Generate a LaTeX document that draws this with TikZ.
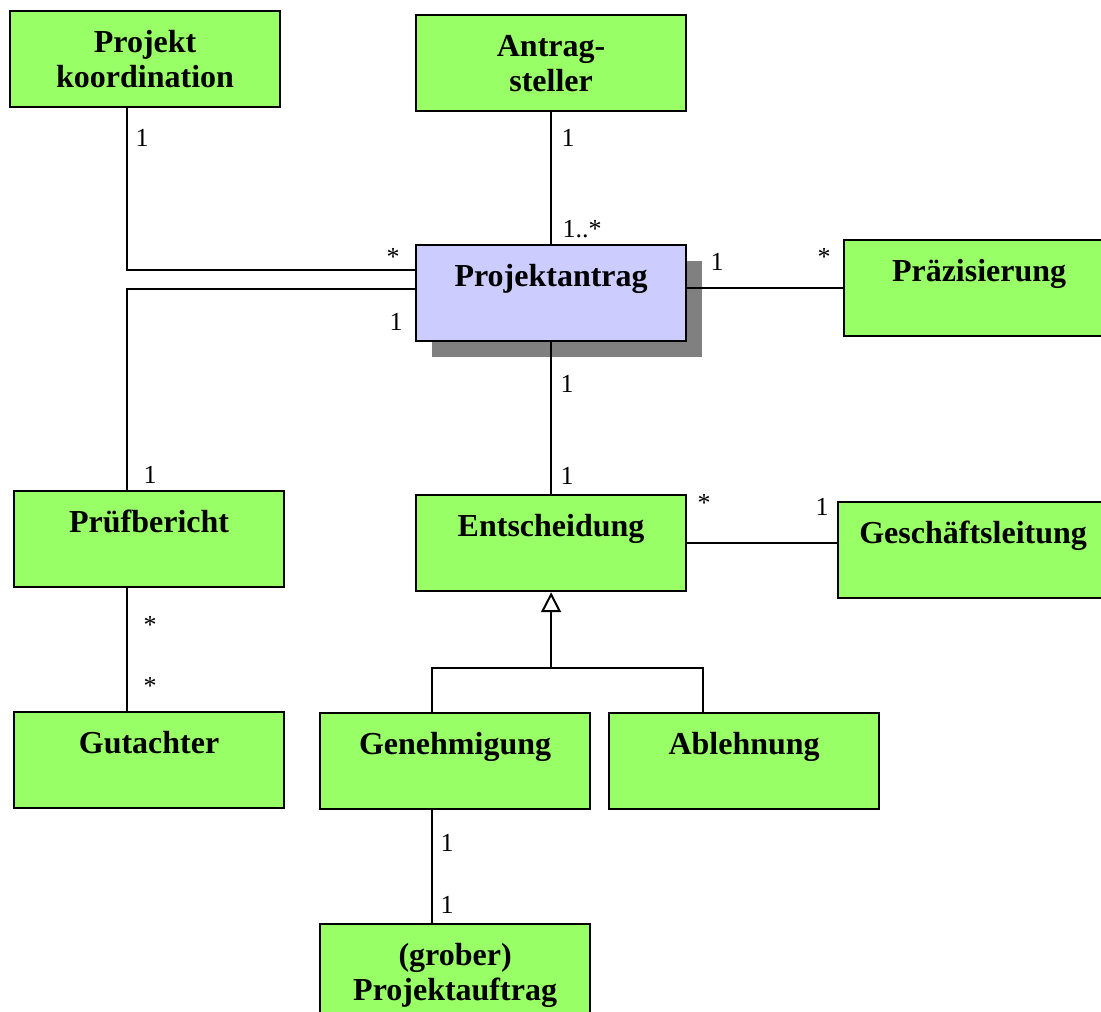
\documentclass[tikz,border=0pt]{standalone}
\usepackage{fontspec}
\setmainfont{Liberation Serif}
\usepackage{xcolor}
\usepackage{tikz}
\usetikzlibrary{arrows.meta,calc,shadows}

\definecolor{clsgreen}{HTML}{99FF66}
\definecolor{clsblue}{HTML}{CCCCFF}
\definecolor{shadowgray}{HTML}{808080}

\begin{document}
\begin{tikzpicture}[
  x=1pt, y=-1pt,
  font=\fontsize{26}{30}\selectfont,
  box/.style={draw=black, line width=2.2pt, fill=clsgreen, anchor=north west,
              minimum width=270pt, text width=250pt, inner xsep=10pt, inner ysep=0pt,
              align=center, text height=41pt, text depth=55pt,
              font=\fontsize{32}{35}\selectfont\bfseries},
  mult/.style={inner sep=0pt},
  assoc/.style={line width=2pt},
  >={Triangle[open, width=20pt, length=20pt]}
]
\useasboundingbox (0,0) rectangle (1101,1012);

% classes
\node[box] (koord) at (9,10) {Projekt\\koordination};
\node[box] (antrag) at (415,14) {Antrag-\\steller};
\node[box, fill=clsblue,
      drop shadow={shadow xshift=16pt, shadow yshift=-16pt, opacity=1, fill=shadowgray}]
  (pa) at (415,244) {Projektantrag};
\node[box] (praez) at (843,239) {Präzisierung};
\node[box] (pruef) at (13,490) {Prüfbericht};
\node[box] (entsch) at (415,494) {Entscheidung};
\node[box] (gesch) at (837,501) {Geschäftsleitung};
\node[box] (gut) at (13,711) {Gutachter};
\node[box] (genehm) at (319,712) {Genehmigung};
\node[box] (abl) at (608,712) {Ablehnung};
\node[box] (auftrag) at (319,923) {(grober)\\Projektauftrag};

% associations
\draw[assoc] ($(koord.south west)+(118,0)$) |- ($(pa.north west)+(0,26)$);
\draw[assoc] ($(pruef.north west)+(114,0)$) |- ($(pa.north west)+(0,45)$);
\draw[assoc] (antrag) -- (pa);
\draw[assoc] (pa.east |- praez.west) -- (praez.west);
\draw[assoc] (pa) -- (entsch);
\draw[assoc] (entsch.east) -- (entsch.east -| gesch.west);
\draw[assoc] ($(pruef.south west)+(114,0)$) -- ($(gut.north west)+(114,0)$);
\draw[assoc] ($(genehm.south west)+(113,0)$) -- ($(auftrag.north west)+(113,0)$);

% generalization
\coordinate (gen) at ($(entsch.south)+(0,76)$);
\draw[assoc, ->] (gen) -- (entsch.south);
\draw[assoc] ($(genehm.north west)+(113,0)$) |- (gen) -| ($(abl.north west)+(95,0)$);

% multiplicities
\node[mult] (m-koord) at (142,138) {1};
\node[mult] (m-antrag) at (568,138) {1};
\node[mult] (m-pa-antrag) at (582,229) {1..*};
\node[mult] (m-pa-koord) at (393,257) {*};
\node[mult] (m-pa-pruef) at (396,322) {1};
\node[mult] (m-pa-praez) at (717,262) {1};
\node[mult] (m-praez) at (824,257) {*};
\node[mult] (m-pa-entsch) at (567,384) {1};
\node[mult] (m-entsch) at (567,476) {1};
\node[mult] (m-pruef) at (150,475) {1};
\node[mult] (m-pruef-gut) at (150,625) {*};
\node[mult] (m-gut) at (150,686) {*};
\node[mult] (m-entsch-gesch) at (704,503) {*};
\node[mult] (m-gesch) at (822,507) {1};
\node[mult] (m-genehm) at (447,843) {1};
\node[mult] (m-auftrag) at (447,905) {1};
\end{tikzpicture}
\end{document}
